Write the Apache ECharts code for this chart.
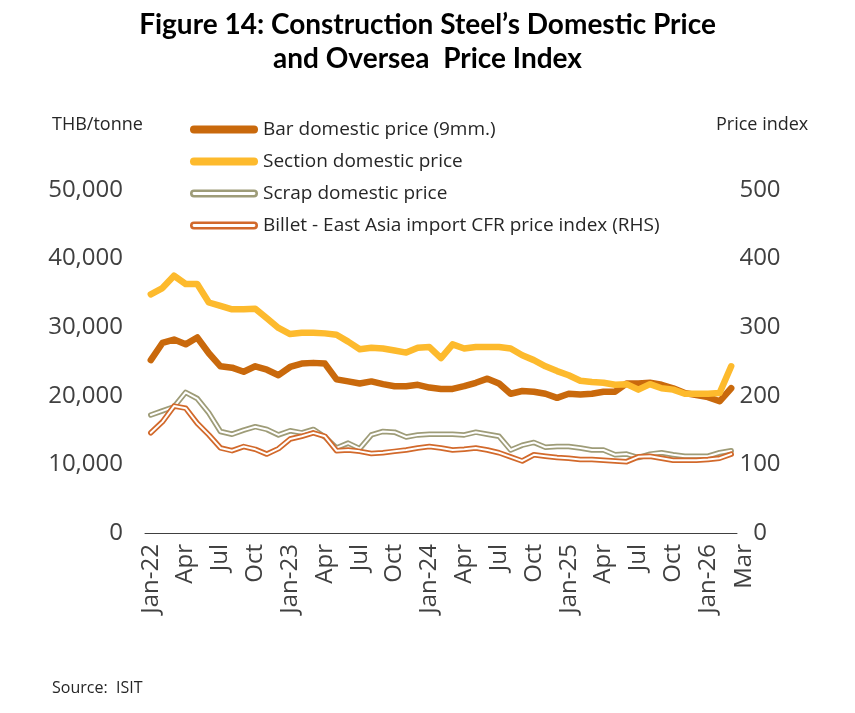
<!DOCTYPE html>
<html>
<head>
<meta charset="utf-8">
<script src="https://cdn.jsdelivr.net/npm/echarts@6/dist/echarts.min.js"></script>
<style>
  html, body { margin: 0; padding: 0; background: #fff; }
  #main { width: 855px; height: 713px; }
</style>
</head>
<body>
<div id="main"></div>
<script>
// month labels, Jan-22 .. Mar-26
var months = [
    'Jan-22', 'Feb', 'Mar', 'Apr', 'May', 'Jun', 'Jul', 'Aug', 'Sep', 'Oct', 'Nov', 'Dec',
    'Jan-23', 'Feb', 'Mar', 'Apr', 'May', 'Jun', 'Jul', 'Aug', 'Sep', 'Oct', 'Nov', 'Dec',
    'Jan-24', 'Feb', 'Mar', 'Apr', 'May', 'Jun', 'Jul', 'Aug', 'Sep', 'Oct', 'Nov', 'Dec',
    'Jan-25', 'Feb', 'Mar', 'Apr', 'May', 'Jun', 'Jul', 'Aug', 'Sep', 'Oct', 'Nov', 'Dec',
    'Jan-26', 'Feb', 'Mar'
];
// THB/tonne
var barPrice = [25200, 27700, 28200, 27500, 28500, 26200, 24300, 24100, 23500, 24300, 23800, 23000,
    24200, 24700, 24800, 24700, 22400, 22100, 21800, 22100, 21700, 21400, 21400, 21600,
    21200, 21000, 21000, 21400, 21900, 22500, 21800, 20300, 20700, 20600, 20300, 19700,
    20300, 20200, 20300, 20600, 20600, 21800, 21800, 21900, 21600, 21100, 20400, 20100,
    19800, 19200, 21100];
var sectionPrice = [34800, 35700, 37500, 36300, 36300, 33600, 33100, 32600, 32600, 32700, 31300, 29900,
    29000, 29200, 29200, 29100, 28900, 27900, 26800, 27000, 26900, 26600, 26300, 27000,
    27100, 25500, 27500, 26900, 27100, 27100, 27100, 26900, 25900, 25200, 24300, 23600,
    23000, 22200, 22000, 21900, 21600, 21700, 20900, 21700, 21100, 20900, 20300, 20300,
    20300, 20400, 24300];
var scrapPrice = [17200, 17800, 18400, 20500, 19600, 17500, 14800, 14400, 15000, 15500, 15100, 14300,
    14900, 14600, 15100, 14000, 12400, 13100, 12300, 14300, 14800, 14700, 14000, 14300,
    14400, 14400, 14400, 14300, 14700, 14400, 14100, 12100, 12800, 13200, 12500, 12600,
    12600, 12400, 12100, 12100, 11400, 11500, 11000, 11500, 11700, 11400, 11200, 11200,
    11200, 11700, 12000];
// price index (RHS)
var billetIndex = [146, 162, 185, 182, 160, 143, 124, 120, 126, 122, 115, 123,
    137, 141, 146, 141, 120, 121, 119, 116, 117, 119, 121, 124,
    126, 124, 121, 122, 124, 121, 117, 111, 105, 114, 112, 110,
    109, 107, 107, 106, 105, 104, 111, 112, 109, 106, 106, 106,
    107, 109, 115];

var names = [
    'Bar domestic price (9mm.)',
    'Section domestic price',
    'Scrap domestic price',
    'Billet - East Asia import CFR price index (RHS)'
];

var cBar = '#C9690C', cSection = '#FDBA2D', cScrap = '#9E9C78', cBillet = '#D2692B';
var labelColor = '#404040';
var font = 'Open Sans';
var xFontSize = 24;

// legend icons: solid bar and a "double" (hollow) bar
var iconSolid = 'path://M4,0L64,0A4,4,0,0,1,64,8L4,8A4,4,0,0,1,4,0Z';
var iconDouble = 'path://M4,0L64,0A4,4,0,0,1,64,8L4,8A4,4,0,0,1,4,0Z' +
    'M4,2.6A1.4,1.4,0,0,0,4,5.4L64,5.4A1.4,1.4,0,0,0,64,2.6Z';

function lineSeries(name, data, color, width, yIdx, z) {
    return {
        name: name,
        type: 'line',
        data: data,
        yAxisIndex: yIdx,
        symbol: 'none',
        showSymbol: false,
        silent: true,
        z: z,
        itemStyle: { color: color },
        lineStyle: { color: color, width: width, cap: 'round', join: 'round' }
    };
}

var chart = echarts.init(document.getElementById('main'), null, { renderer: 'canvas' });

var lastIdx = months.length - 1;

var option = {
    backgroundColor: '#fff',
    animation: false,
    title: {
        text: 'Figure 14: Construction Steel\u2019s Domestic Price\nand Oversea  Price Index',
        left: 'center',
        top: 3,
        textStyle: {
            fontFamily: 'Lato',
            fontWeight: 'bold',
            fontSize: 28,
            lineHeight: 34,
            color: '#000'
        }
    },
    legend: {
        orient: 'vertical',
        left: 190,
        top: 119,
        padding: 0,
        itemWidth: 68,
        itemHeight: 8,
        itemGap: 11,
        selectedMode: false,
        itemStyle: { borderWidth: 0 },
        textStyle: { fontFamily: font, fontSize: 19, lineHeight: 21, color: '#262626' },
        data: [
            { name: names[0], icon: iconSolid },
            { name: names[1], icon: iconSolid },
            { name: names[2], icon: iconDouble },
            { name: names[3], icon: iconDouble }
        ]
    },
    grid: { left: 145, right: 118, top: 190, bottom: 180, containLabel: false },
    xAxis: {
        type: 'category',
        data: months,
        boundaryGap: true,
        axisLine: { lineStyle: { color: labelColor, width: 1 } },
        axisTick: { show: false },
        axisLabel: {
            rotate: 90,
            margin: 11,
            hideOverlap: false,
            fontFamily: font,
            fontSize: xFontSize,
            color: labelColor,
            interval: function (index) {
                return index % 3 === 0 || index === lastIdx;
            },
            // the last label sits a little to the right of its point, as in the original
            formatter: function (value, index) {
                return index === lastIdx ? '{m|' + value + '}' : value;
            },
            rich: {
                m: { fontFamily: font, fontSize: xFontSize, color: labelColor, padding: [26, 0, 0, 0] }
            }
        },
        splitLine: { show: false }
    },
    yAxis: [
        {
            type: 'value',
            min: 0,
            max: 50000,
            interval: 10000,
            axisLine: { show: false },
            axisTick: { show: false },
            splitLine: { show: false },
            axisLabel: {
                margin: 22,
                fontFamily: font,
                fontSize: 24,
                color: labelColor,
                formatter: function (v) { return v.toLocaleString('en-US'); }
            }
        },
        {
            type: 'value',
            min: 0,
            max: 500,
            interval: 100,
            axisLine: { show: false },
            axisTick: { show: false },
            splitLine: { show: false },
            axisLabel: {
                margin: 23,
                align: 'center',
                fontFamily: font,
                fontSize: 24,
                color: labelColor
            }
        }
    ],
    graphic: [
        { type: 'text', left: 52, top: 116, style: { text: 'THB/tonne', fontFamily: font, fontSize: 18, fill: '#262626' } },
        { type: 'text', left: 716, top: 116, style: { text: 'Price index', fontFamily: font, fontSize: 18, fill: '#262626' } },
        { type: 'text', left: 52, top: 680, style: { text: 'Source:  ISIT', fontFamily: font, fontSize: 16, fill: '#262626' } }
    ],
    series: [
        lineSeries(names[0], barPrice, cBar, 6.5, 0, 2),
        lineSeries(names[1], sectionPrice, cSection, 6.5, 0, 3),
        lineSeries(names[2], scrapPrice, cScrap, 5.5, 0, 4),
        // white core for the double line
        lineSeries('scrap-inner', scrapPrice, '#ffffff', 2, 0, 5),
        lineSeries(names[3], billetIndex, cBillet, 5.5, 1, 6),
        lineSeries('billet-inner', billetIndex, '#ffffff', 2, 1, 7)
    ]
};

chart.setOption(option);
</script>
</body>
</html>
